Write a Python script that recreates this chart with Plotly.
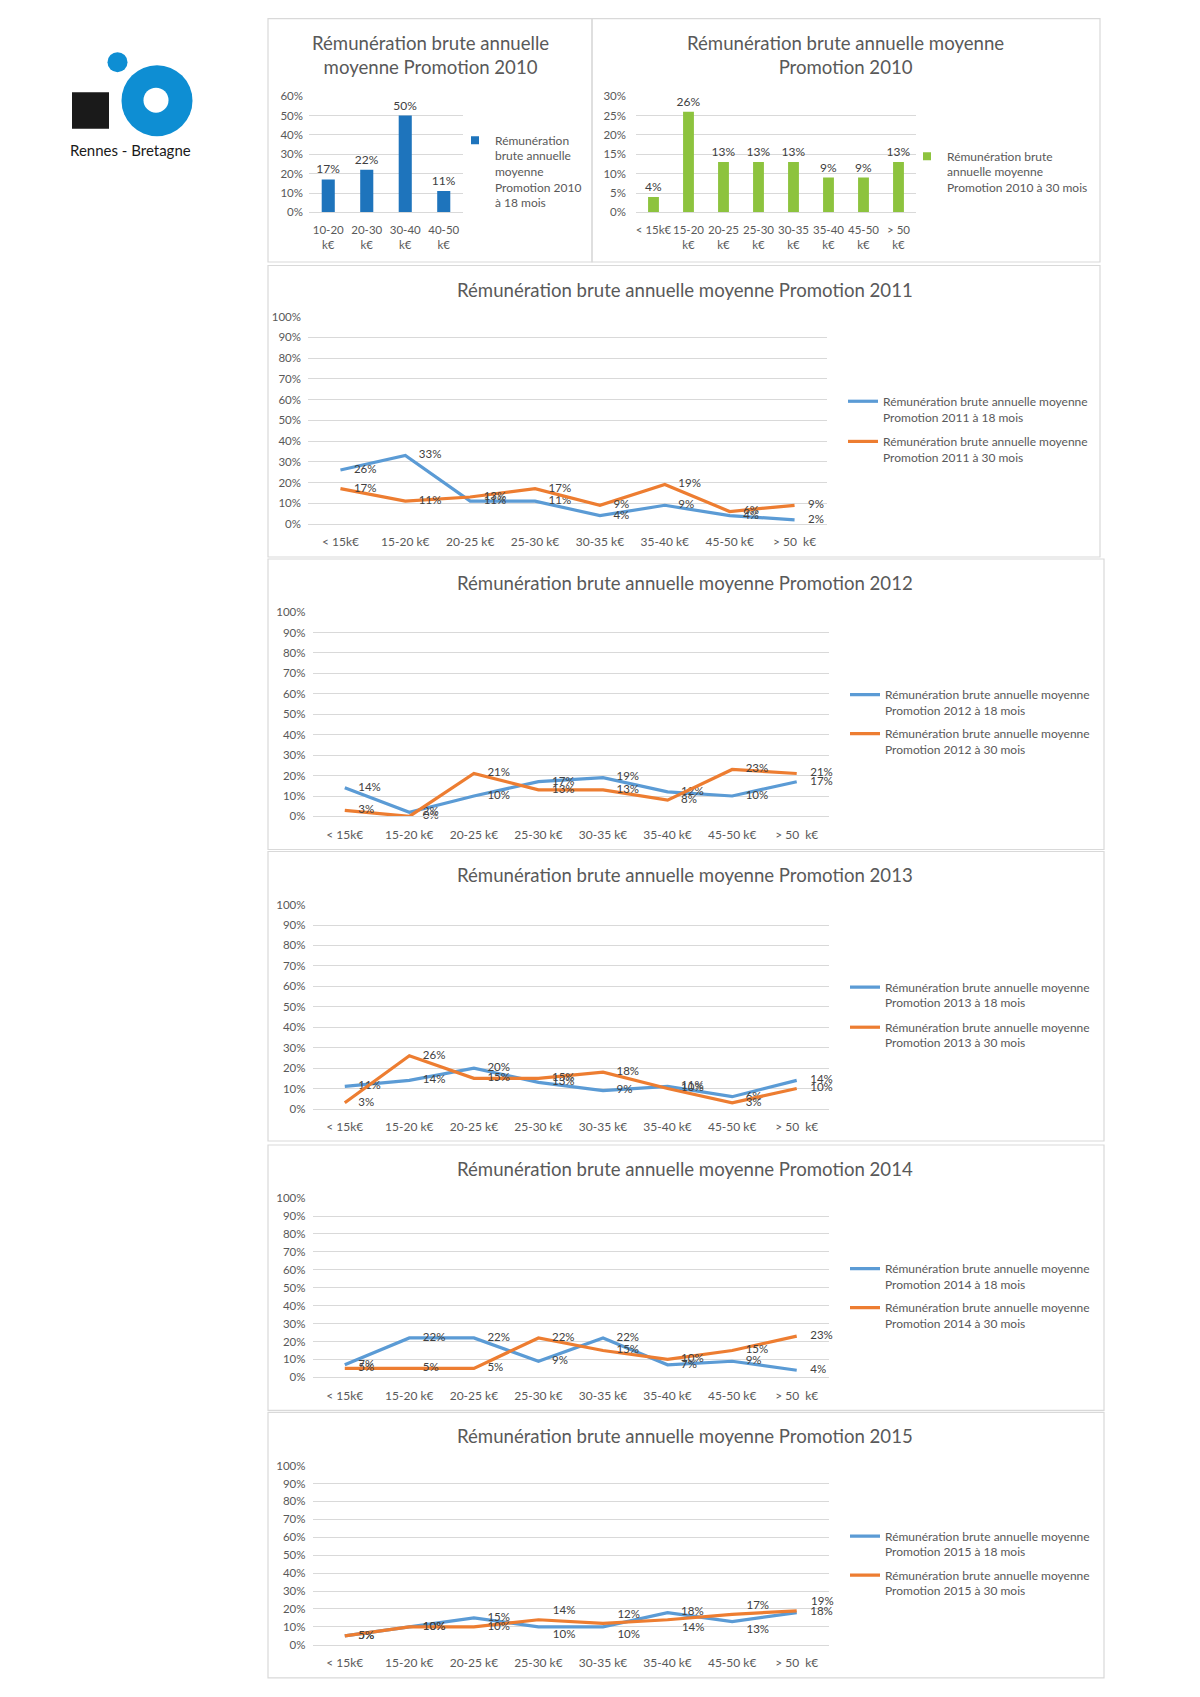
import plotly.graph_objects as go

W, H = 1200, 1697

# The photographed page shows an 8 px top offset and a slight vertical squeeze;
# these two constants compensate so that shapes land at the intended pixels.
Y_OFF = 7.93
Y_SCALE = 1713 / 1697


def fx(p):
    return p / W


def fy(p):
    return 1 - ((p - Y_OFF) * Y_SCALE) / H


# ---------------- data ----------------
cats_2010_18 = ["10-20<br>k€", "20-30<br>k€", "30-40<br>k€", "40-50<br>k€"]
vals_2010_18 = [0.17, 0.22, 0.50, 0.11]

cats_2010_30 = ["< 15k€", "15-20<br>k€", "20-25<br>k€", "25-30<br>k€",
                "30-35<br>k€", "35-40<br>k€", "45-50<br>k€", "> 50<br>k€"]
vals_2010_30 = [0.04, 0.26, 0.13, 0.13, 0.13, 0.09, 0.09, 0.13]

cats_lines = ["< 15k€", "15-20 k€", "20-25 k€", "25-30 k€", "30-35 k€",
              "35-40 k€", "45-50 k€", "> 50\u00a0 k€"]

years = [2011, 2012, 2013, 2014, 2015]
p2011_18 = [0.26, 0.33, 0.11, 0.11, 0.04, 0.09, 0.04, 0.02]
p2011_30 = [0.17, 0.11, 0.13, 0.17, 0.09, 0.19, 0.06, 0.09]
p2012_18 = [0.14, 0.02, 0.10, 0.17, 0.19, 0.12, 0.10, 0.17]
p2012_30 = [0.03, 0.00, 0.21, 0.13, 0.13, 0.08, 0.23, 0.21]
p2013_18 = [0.11, 0.14, 0.20, 0.13, 0.09, 0.11, 0.06, 0.14]
p2013_30 = [0.03, 0.26, 0.15, 0.15, 0.18, 0.10, 0.03, 0.10]
p2014_18 = [0.07, 0.22, 0.22, 0.09, 0.22, 0.07, 0.09, 0.04]
p2014_30 = [0.05, 0.05, 0.05, 0.22, 0.15, 0.10, 0.15, 0.23]
p2015_18 = [0.05, 0.10, 0.15, 0.10, 0.10, 0.18, 0.13, 0.18]
p2015_30 = [0.05, 0.10, 0.10, 0.14, 0.12, 0.14, 0.17, 0.19]

series_18 = [p2011_18, p2012_18, p2013_18, p2014_18, p2015_18]
series_30 = [p2011_30, p2012_30, p2013_30, p2014_30, p2015_30]

# ---------------- styles ----------------
FONT = "Lato"
GRID = "#D9D9D9"
TXT = "#595959"
LBL = "#404040"
BLUE_LINE = "#5B9BD5"
ORANGE_LINE = "#ED7D31"
BAR_BLUE = "#1E74BC"
BAR_GREEN = "#8DC33E"
LOGO_BLUE = "#0E8ED3"
CLEAR = "rgba(0,0,0,0)"

# label positions (the 2015 chart has manually moved labels)
MR = "middle right"
pos_default = [MR] * 8
pos_2015_18 = [MR, MR, MR, "bottom right", "bottom right", MR, "bottom right", MR]
pos_2015_30 = [MR, MR, MR, "top right", "top right", "bottom right", "top right", "top right"]

# layout geometry in page pixels
boxes = [(268, 19.5, 592, 262.5), (592, 19.5, 1100, 262.5), (268, 266, 1100, 557),
         (268, 559, 1104, 849), (268, 851, 1104, 1140), (268, 1144, 1104, 1409),
         (268, 1411, 1104, 1676)]
plots = [(309, 97, 463, 213), (636, 97, 916, 213), (308, 317, 827, 524),
         (312.5, 612, 829, 816), (312.5, 904, 829, 1108), (312.5, 1197, 829, 1376),
         (312.5, 1464, 829, 1643)]
line_title_y = [290, 583, 874.5, 1167.5, 1434.5]
line_leg_y = [(409.7, 449.8), (702.6, 741.5), (994.5, 1034.6), (1275.6, 1314.5), (1542.6, 1581.6)]
line_leg_x = [843, 845, 845, 845, 845]

fig = go.Figure()
layout = dict(width=W, height=H, margin=dict(l=0, r=0, t=0, b=0),
              paper_bgcolor="white", plot_bgcolor="white",
              font=dict(family=FONT, color=TXT, size=11),
              showlegend=True, hovermode=False)


def add_axes(n, plot, yrange, dtick, ncat, x_font, y_standoff):
    x0, y0, x1, y1 = plot
    s = "" if n == 1 else str(n)
    layout["xaxis" + s] = dict(domain=[fx(x0), fx(x1)], anchor="y" + s,
                               type="category", range=[-0.5, ncat - 0.5],
                               showgrid=False, zeroline=False, showline=True,
                               linecolor=GRID, linewidth=1, ticks="", tickangle=0,
                               tickfont=dict(size=x_font, color=TXT, family=FONT),
                               ticklabelstandoff=7, fixedrange=True)
    layout["yaxis" + s] = dict(domain=[fy(y1), fy(y0)], anchor="x" + s,
                               range=yrange, dtick=dtick, tickformat=".0%",
                               showgrid=True, gridcolor=GRID, gridwidth=1,
                               zeroline=False, showline=False, ticks="",
                               tickfont=dict(size=11.5, color=TXT, family=FONT),
                               ticklabelstandoff=y_standoff, fixedrange=True)
    return "x" + s, "y" + s


leg_count = [0]


def new_legend(x_px, ymid_px, size):
    leg_count[0] += 1
    k = leg_count[0]
    name = "legend" if k == 1 else "legend" + str(k)
    layout[name] = dict(x=fx(x_px), y=fy(ymid_px), xanchor="left", yanchor="middle",
                        bgcolor=CLEAR, borderwidth=0, valign="top",
                        font=dict(size=size, color=TXT, family=FONT))
    return name


def add_bars(n, cats, vals, color, width, plot, yrange, dtick, legname, legx, legy):
    xr, yr = add_axes(n, plot, yrange, dtick, len(cats), 11.5, 5 if n == 1 else 9)
    fig.add_trace(go.Bar(x=cats, y=vals, xaxis=xr, yaxis=yr,
                         marker=dict(color=color, line=dict(width=0)), width=width,
                         texttemplate="%{y:.0%}", textposition="outside",
                         constraintext="none",
                         textfont=dict(size=12, color=LBL, family=FONT), cliponaxis=False,
                         showlegend=False))
    # legend entry (small square, as in the original)
    fig.add_trace(go.Scatter(x=[None], y=[None], xaxis=xr, yaxis=yr, mode="markers",
                             marker=dict(symbol="square", size=8, color=color),
                             name=legname, legend=new_legend(legx, legy, 12)))


add_bars(1, cats_2010_18, vals_2010_18, BAR_BLUE, 0.34, plots[0], [0, 0.6], 0.1,
         "Rémunération<br>brute annuelle<br>moyenne<br>Promotion 2010<br>à 18 mois", 455, 172)
add_bars(2, cats_2010_30, vals_2010_30, BAR_GREEN, 0.31, plots[1], [0, 0.3], 0.05,
         "Rémunération brute<br>annuelle moyenne<br>Promotion 2010 à 30 mois", 907, 172.5)

# ---------------- line charts 2011-2015 ----------------
for i, yr_ in enumerate(years):
    n = i + 3
    xr, yr = add_axes(n, plots[i + 2], [0, 1.0], 0.1, 8, 12, 6)
    pos18 = pos_2015_18 if yr_ == 2015 else pos_default
    pos30 = pos_2015_30 if yr_ == 2015 else pos_default
    for vals, col, months, pos, ly in ((series_18[i], BLUE_LINE, 18, pos18, line_leg_y[i][0]),
                                       (series_30[i], ORANGE_LINE, 30, pos30, line_leg_y[i][1])):
        sizes = [20 if p == MR else 3 for p in pos]
        # moved labels sit a little further right of their point
        templates = ["%{y:.0%}" if p == MR else "\u2002\u2002%{y:.0%}" for p in pos]
        lg = new_legend(line_leg_x[i], ly, 12)
        # the line with its value labels (invisible markers only space the labels)
        fig.add_trace(go.Scatter(
            x=cats_lines, y=vals, xaxis=xr, yaxis=yr, mode="lines+markers+text",
            line=dict(color=col, width=3.2),
            marker=dict(size=sizes, color=CLEAR, opacity=0, line=dict(width=0, color=CLEAR)),
            texttemplate=templates, textposition=pos,
            textfont=dict(size=11.5, color=LBL, family=FONT), cliponaxis=False,
            showlegend=False, legend=lg))
        # legend entry: plain line
        fig.add_trace(go.Scatter(
            x=[None], y=[None], xaxis=xr, yaxis=yr, mode="lines",
            line=dict(color=col, width=3.2),
            name=f"Rémunération brute annuelle moyenne<br>Promotion {yr_} à {months} mois",
            legend=lg))

# ---------------- titles ----------------
ann = []
TITLE_FONT = dict(size=18.6, color=TXT, family=FONT)
ann.append(dict(text="Rémunération brute annuelle<br>moyenne Promotion 2010",
                x=fx(430), y=fy(56), xref="paper", yref="paper", showarrow=False,
                xanchor="center", yanchor="middle", font=TITLE_FONT, align="center"))
ann.append(dict(text="Rémunération brute annuelle moyenne<br>Promotion 2010",
                x=fx(845.5), y=fy(56), xref="paper", yref="paper", showarrow=False,
                xanchor="center", yanchor="middle", font=TITLE_FONT, align="center"))
for yr_, ty in zip(years, line_title_y):
    ann.append(dict(text=f"Rémunération brute annuelle moyenne Promotion {yr_}",
                    x=fx(685), y=fy(ty), xref="paper", yref="paper", showarrow=False,
                    xanchor="center", yanchor="middle", font=TITLE_FONT))
# logo text
ann.append(dict(text="Rennes - Bretagne", x=fx(130), y=fy(151), xref="paper", yref="paper",
                showarrow=False, xanchor="center", yanchor="middle",
                font=dict(size=15, color="#1A1A1A", family=FONT)))

# ---------------- shapes: chart borders + logo ----------------
shapes = []
for (x0, y0, x1, y1) in boxes:
    shapes.append(dict(type="rect", xref="paper", yref="paper", x0=fx(x0), x1=fx(x1),
                       y0=fy(y1), y1=fy(y0), line=dict(color=GRID, width=1.2),
                       fillcolor=CLEAR, layer="below"))
# logo: black square, blue ring, small blue dot
shapes.append(dict(type="rect", xref="paper", yref="paper", x0=fx(72), x1=fx(109),
                   y0=fy(129.5), y1=fy(93), line=dict(width=0), fillcolor="#1A1A1A"))
shapes.append(dict(type="circle", xref="paper", yref="paper", x0=fx(121.5), x1=fx(192.5),
                   y0=fy(137), y1=fy(66), line=dict(width=0), fillcolor=LOGO_BLUE))
shapes.append(dict(type="circle", xref="paper", yref="paper", x0=fx(143.5), x1=fx(168.5),
                   y0=fy(113.5), y1=fy(88.5), line=dict(width=0), fillcolor="white"))
shapes.append(dict(type="circle", xref="paper", yref="paper", x0=fx(107.5), x1=fx(127.5),
                   y0=fy(73), y1=fy(53), line=dict(width=0), fillcolor=LOGO_BLUE))

layout["annotations"] = ann
layout["shapes"] = shapes
fig.update_layout(**layout)

fig.write_html("out.html", config={"displayModeBar": False, "staticPlot": True},
               post_script="document.body.style.margin='0';")
